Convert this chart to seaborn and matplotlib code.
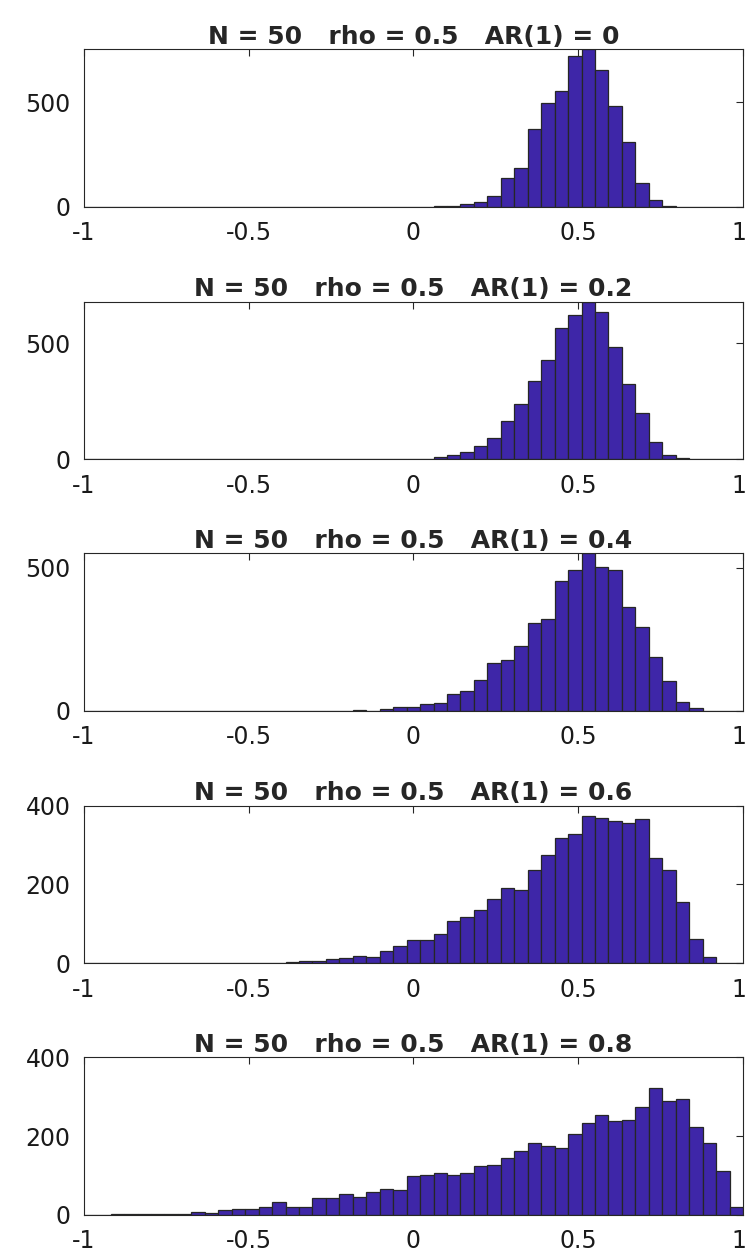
import numpy as np
import pandas as pd
import matplotlib
matplotlib.use("Agg")
import matplotlib.pyplot as plt
import matplotlib.transforms as mtransforms
import seaborn as sns

# ---- data ----
n_bins = 49                                  # equal bins over [-1, 1]
x_range = (-1, 1)
ar_values = ["0", "0.2", "0.4", "0.6", "0.8"]

counts_ar00 = [0] * 24 + [1, 1, 2, 5, 11, 24, 54, 139, 187, 371, 498, 554, 720, 753,
                          654, 482, 312, 115, 34, 5, 1] + [0] * 4
counts_ar02 = [0] * 23 + [1, 2, 2, 9, 17, 30, 59, 93, 165, 240, 339, 430, 565, 622, 680,
                          637, 486, 323, 198, 76, 17, 5, 1] + [0] * 3
counts_ar04 = [0] * 19 + [1, 2, 1, 5, 12, 14, 24, 28, 57, 69, 107, 166, 176, 225, 305,
                          319, 452, 491, 550, 501, 493, 361, 291, 188, 104, 30, 10] + [0] * 3
counts_ar06 = [0] * 14 + [1, 2, 5, 6, 10, 14, 18, 16, 31, 43, 58, 59, 74, 108, 117, 136,
                          162, 192, 187, 237, 274, 319, 327, 375, 368, 360, 355, 366,
                          268, 237, 156, 61, 15] + [0] * 2
counts_ar08 = [0] * 2 + [1, 1, 2, 3, 3, 2, 8, 5, 13, 15, 14, 20, 32, 20, 19, 42, 42, 53,
                         46, 59, 65, 64, 98, 100, 106, 100, 106, 125, 126, 143, 161, 182,
                         174, 170, 205, 234, 254, 237, 242, 273, 323, 288, 293, 224, 182,
                         112, 19]
all_counts = [counts_ar00, counts_ar02, counts_ar04, counts_ar06, counts_ar08]
y_max = [753, 680, 550, 400, 400]
y_ticks = [[0, 500], [0, 500], [0, 500], [0, 200, 400], [0, 200, 400]]
x_ticks = [-1, -0.5, 0, 0.5, 1]
x_ticklabels = ["-1", "-0.5", "0", "0.5", "1"]

# ---- style ----
sns.set_style("white")
plt.rcParams["font.family"] = ["DejaVu Sans"]

W, H = 747, 1256
fig = plt.figure(figsize=(W / 100, H / 100), dpi=100)

left_px, right_px = 83.7, 743.0
tops_px = [49.3, 301.7, 553.3, 805.7, 1057.3]
ax_h_px = 157.5

edges = np.linspace(x_range[0], x_range[1], n_bins + 1)
centers = (edges[:-1] + edges[1:]) / 2
bar_color = "#3E26A8"
dark = "#262626"

for i, (counts, ar) in enumerate(zip(all_counts, ar_values)):
    top = tops_px[i]
    ax = fig.add_axes([left_px / W, 1 - (top + ax_h_px) / H,
                       (right_px - left_px) / W, ax_h_px / H])
    df = pd.DataFrame({"r": centers, "n": np.asarray(counts, dtype=float)})
    sns.histplot(data=df, x="r", weights="n", bins=n_bins, binrange=x_range, ax=ax,
                 color=bar_color, alpha=1.0, edgecolor=dark, linewidth=0.9)
    ax.set_xlim(-1, 1)
    ax.set_ylim(0, y_max[i])
    ax.set_xticks(x_ticks)
    ax.set_xticklabels(x_ticklabels)
    ax.set_yticks(y_ticks[i])
    ax.set_xlabel("")
    ax.set_ylabel("")
    ax.tick_params(direction="in", length=5, width=0.8, top=True, right=True,
                   labelsize=17, colors=dark, labelcolor="#1a1a1a")
    ax.tick_params(axis="x", pad=10.5)
    ax.tick_params(axis="y", pad=9.5)
    # nudge the rightmost x label slightly left so it stays inside the figure
    last = ax.get_xticklabels()[-1]
    last.set_transform(last.get_transform() +
                       mtransforms.ScaledTranslation(-4 / 100, 0, fig.dpi_scale_trans))
    for s in ax.spines.values():
        s.set_visible(True)
        s.set_color(dark)
        s.set_linewidth(0.8)
    ax.set_title(f"N = 50   rho = 0.5   AR(1) = {ar}", fontsize=18,
                 fontweight="bold", pad=4)

fig.savefig("out.png", dpi=100)
